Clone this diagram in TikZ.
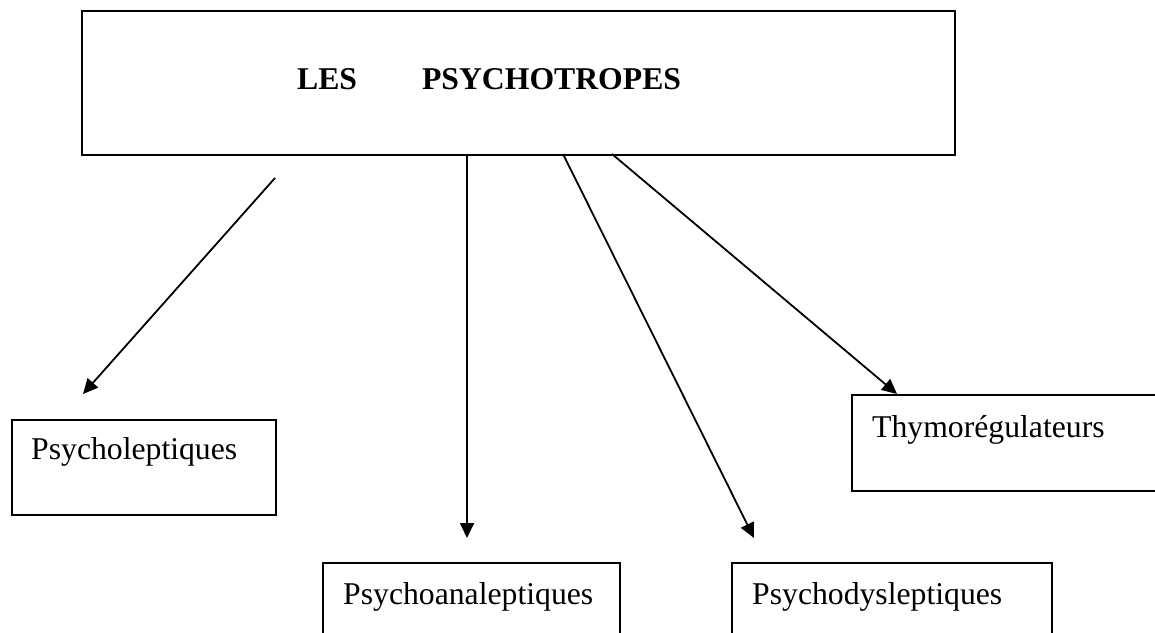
\documentclass[tikz,border=0pt]{standalone}
\usepackage{fontspec}
\setmainfont{Liberation Serif}
\usetikzlibrary{arrows.meta}
\begin{document}
\begin{tikzpicture}[x=1pt,y=-1pt,
  box/.style={draw,line width=2.2pt,rectangle,inner sep=0pt,anchor=north west},
  lbl/.style={anchor=base west,inner sep=0pt,font=\fontsize{31.7}{36}\selectfont},
  arr/.style={line width=1.8pt,-{Triangle[length=15pt,width=14pt]}}]
\useasboundingbox (0,0) rectangle (1155,632);
\fill[white] (0,0) rectangle (1155,632);
% boxes
\node[box,minimum width=873pt,minimum height=144pt] (top) at (81,10) {};
\node[box,minimum width=264pt,minimum height=95pt] (b1) at (11,419) {};
\node[box,minimum width=320pt,minimum height=96pt] (b4) at (851,394) {};
\node[box,minimum width=297pt,minimum height=110pt] (b2) at (322,562) {};
\node[box,minimum width=320pt,minimum height=110pt] (b3) at (731,562) {};
% texts
\node[anchor=base west,inner sep=0pt,font=\fontsize{31.7}{36}\selectfont\bfseries] (title) at (297,89)
  {LES\hspace{65pt}PSYCHOTROPES};
\node[lbl] (t1) at (31,459) {Psycholeptiques};
\node[lbl] (t4) at (872,437) {Thymorégulateurs};
\node[lbl] (t2) at (343,604) {Psychoanaleptiques};
\node[lbl] (t3) at (752,604) {Psychodysleptiques};
% arrow ends
\coordinate (s1) at (275,178);
\coordinate (e1) at (83,394);
\coordinate (s2) at (467,154);
\coordinate (e2) at (467,538);
\coordinate (s3) at (563,154);
\coordinate (e3) at (754,538);
\coordinate (s4) at (612,154);
\coordinate (e4) at (897,394);
\draw[arr] (s1) -- (e1);
\draw[arr] (s2) -- (e2);
\draw[arr] (s3) -- (e3);
\draw[arr] (s4) -- (e4);
\end{tikzpicture}
\end{document}
